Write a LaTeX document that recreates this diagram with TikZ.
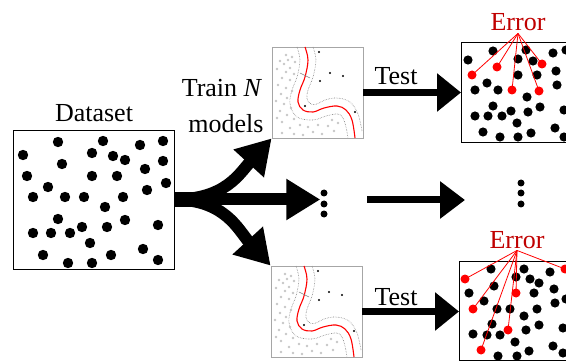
\documentclass[tikz,border=0pt]{standalone}
\usepackage{fontspec}
\setmainfont{Liberation Serif}
\usepackage{tikz}
\usetikzlibrary{arrows.meta}

\definecolor{errred}{RGB}{192,0,0}
\definecolor{errline}{RGB}{255,0,0}

% one trained model: boundary, margins and samples (box is 91 x 91)
\newcommand{\modelplot}{%
  \draw [red, line width=1.1pt] plot [smooth, tension=0.6] coordinates {(33,0) (36,13) (33,30) (28,43) (26,55) (31,63) (41,65) (52,61) (65,59) (74,63) (80,73) (83,91)};
  \draw [gray, densely dotted, line width=0.6pt] plot [smooth, tension=0.6] coordinates {(25,0) (28,13) (25,30) (20,43) (18,57) (25,70) (41,73) (54,69) (66,67) (71,71) (74,80) (76,91)};
  \draw [gray, densely dotted, line width=0.6pt] plot [smooth, tension=0.6] coordinates {(41,0) (44,13) (41,30) (36,43) (35,52) (39,57) (45,57) (53,53) (65,51) (78,55) (86,67) (90,84)};
  \draw [gray, line width=0.5pt] (28,26) -- (38,31);
  \foreach \p in {(14,8),(16,13),(12,17),(20,10),(23,15),(8,14),(18,21),(5,22),(14,25),(22,27),(10,31),(18,33),(6,38),(14,41),(20,44),(9,47),(15,51),(4,54),(12,57),(19,61),(8,64),(15,68),(22,72),(10,75),(28,78),(18,81),(36,80),(46,78),(56,79),(62,84),(50,87),(31,88),(41,85),(66,76),(10,86),(22,87),(5,71),(60,73)}
    \fill [gray!45] \p circle (1.3pt);
  \foreach \p in {(47,5),(58,26),(71,29),(48,34),(33,59),(83,65)}
    \fill [black] \p circle (1.1pt);
}

\begin{document}
\begin{tikzpicture}[x=1pt, y=-1pt]
\tikzset{
  lbl/.style={font=\fontsize{26}{30}\selectfont, inner sep=0pt},
  errtxt/.style={lbl, text=errred, inner sep=2pt},
  errln/.style={errline, line width=0.8pt},
  reddot/.style={circle, fill=errline, inner sep=0pt, minimum size=9pt},
  smalldot/.style={circle, fill=black, inner sep=0pt, minimum size=7pt},
  fork/.style={line width=12pt, -{Triangle[width=39pt, length=34pt]}},
  testarrow/.style={line width=7.5pt, -{Triangle[width=37pt, length=24pt]}},
  modelbox/.style={draw=gray!70, line width=0.8pt, minimum size=91pt, inner sep=0pt},
  resbox/.style={draw, line width=0.9pt, anchor=north west, minimum width=130pt, inner sep=0pt}
}
\useasboundingbox (0,0) rectangle (566,361);
\clip (0,0) rectangle (566,361);

% dataset
\node [draw, line width=0.8pt, minimum width=161pt, minimum height=139pt, inner sep=0pt] (data) at (93.5,199.5) {};
\node [lbl, anchor=base] (datalbl) at (94,122) {Dataset};
\foreach \p in {(58,142),(103,141),(140,145),(163,141),(23,155),(92,153),(113,156),(125,160),(163,161),
                (62,164),(145,169),(27,176),(92,176),(117,176),(166,183),(48,187),(147,190),
                (33,197),(65,197),(84,197),(123,197),(105,207),(58,219),(125,220),(158,225),
                (33,233),(51,233),(70,233),(82,227),(107,227),(90,243),(43,255),(143,249),
                (111,255),(158,260),(68,263),(92,263)}
  \fill \p circle (5.2pt);

% models
\node [modelbox] (mtop) at (317.5,92.5) {};
\node [modelbox] (mbot) at (316.5,311.5) {};
\begin{scope}[shift={(272,47)}]
  \modelplot
\end{scope}
\begin{scope}[shift={(271,266)}]
  \modelplot
\end{scope}
\node [lbl, anchor=base] (train) at (222,97) {Train \textit{N}};
\node [lbl, anchor=base] (models) at (226,132) {models};

% vertical dots
\node [smalldot] (dl1) at (324,193) {};
\node [smalldot] (dl2) at (324,204) {};
\node [smalldot] (dl3) at (324,214) {};
\node [smalldot] (dr1) at (521,183) {};
\node [smalldot] (dr2) at (521,193) {};
\node [smalldot] (dr3) at (521,204) {};

% split into N models
\draw [line width=15pt] (data.east) -- ++(30,0);
\draw [fork] (data.east) -- (dl2.west |- data.east);
\draw [fork] (data.east) .. controls +(51,0) and +(-32,35) .. (mtop.south west);
\draw [fork] (data.east) .. controls +(51,0) and +(-32,-35) .. (mbot.north west);

% results
\node [resbox, minimum height=100pt] (rtop) at (461,42) {};
\node [resbox, minimum height=99pt] (rbot) at (459,261) {};

\draw [testarrow] (mtop.east) -- (mtop.east -| rtop.west);
\node [lbl, anchor=base] (testtop) at (396,85) {Test};
\coordinate (ms) at (367,200);
\coordinate (me) at (465,200);
\draw [line width=7pt, -{Triangle[width=36pt, length=25pt]}] (ms) -- (me);
\draw [testarrow] (mbot.east) -- (mbot.east -| rbot.west);
\node [lbl, anchor=base] (testbot) at (396,305) {Test};

% top result
\foreach \p in {(468,60),(493,51),(518,59),(526,50),(533,61),(553,53),(556,71),(518,75),(537,75),
                (487,83),(475,90),(498,90),(557,85),(527,97),(493,106),(540,107),(475,116),
                (488,116),(502,116),(511,111),(528,112),(517,123),(483,132),(500,137),(518,137),
                (531,133),(555,128),(564,137),(564,110),(566,50)}
  \fill \p circle (4.6pt);
\node [errtxt, anchor=base] (etop) at (518,31) {Error};
\foreach \n/\x/\y in {a/472/75,b/497/67,c/542/64,d/512/90,e/539/91} {
  \node [reddot] (et\n) at (\x,\y) {};
  \draw [errln] (etop.south) -- (et\n.center);
}

% bottom result
\foreach \p in {(491,269),(524,269),(550,272),(516,277),(530,279),(539,283),(469,293),(494,286),
                (534,293),(554,289),(566,299),(484,301),(497,309),(510,309),(537,309),(555,303),
                (524,316),(492,324),(539,325),(526,330),(473,334),(487,335),(500,335),(515,342),
                (553,346),(563,328),(498,356),(517,356),(529,351),(563,353)}
  \fill \p circle (4.6pt);
\node [errtxt, anchor=base] (ebot) at (517,248) {Error};
\foreach \n/\x/\y in {a/465/279,b/473/309,c/516/293,d/508/330,e/481/350,f/565/269} {
  \node [reddot] (eb\n) at (\x,\y) {};
  \draw [errln] (ebot.south) -- (eb\n.center);
}
\end{tikzpicture}
\end{document}
